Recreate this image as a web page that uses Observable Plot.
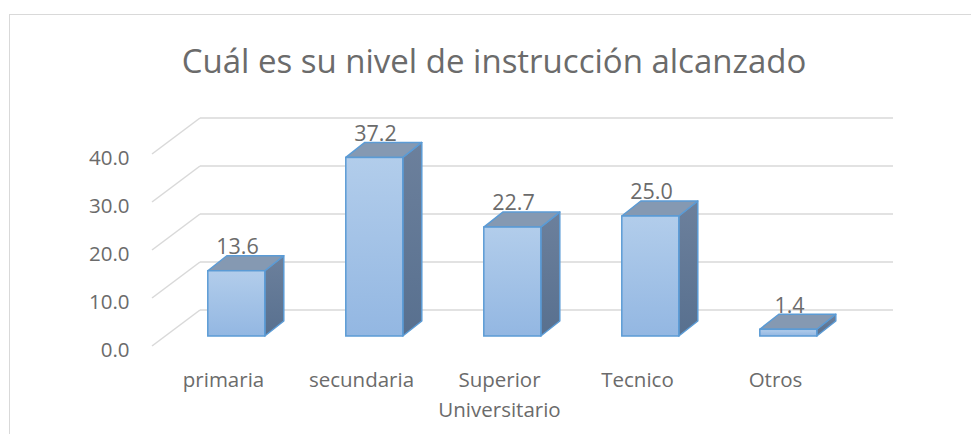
<!DOCTYPE html>
<html><head><meta charset="utf-8">
<script src="https://cdn.jsdelivr.net/npm/d3@7"></script>
<script src="https://cdn.jsdelivr.net/npm/@observablehq/plot@0.6"></script>
<style>
body{margin:0;background:#fff;}
#wrap{position:relative;width:971px;height:434px;overflow:hidden;}
#border{position:absolute;left:9px;top:14px;width:1000px;height:500px;border:1px solid #d9d9d9;}
#chart{position:absolute;left:0;top:0;}
</style></head><body><div id="wrap"><div id="border"></div><div id="chart"></div></div>
<script>
const title = "Cuál es su nivel de instrucción alcanzado";
const categories = ["primaria", "secundaria", "Superior Universitario", "Tecnico", "Otros"];
const values = [13.6, 37.2, 22.7, 25.0, 1.4];
const yTicks = [0, 10, 20, 30, 40];
const data = categories.map((c, i) => ({category: c, value: values[i]}));

// 3D geometry (style constants)
const wallDx = 48, wallDy = -36;
const faceDx = 13.3, faceDy = -10;
const barHalf = 28.5;
const depthDx = 19, depthDy = -15;
const gridColor = "#d9d9d9";
const textColor = "#6b6b6b";
const edge = "#5b9bd5";

function gridRender(index, scales, vals, dims) {
  const {x, y} = scales;
  const [x0, x1] = x.range();
  const g = d3.create("svg:g");
  for (const i of index) {
    const yy = y(yTicks[i]);
    g.append("line").attr("x1", x0).attr("y1", yy).attr("x2", x0 + wallDx).attr("y2", yy + wallDy)
      .attr("stroke", gridColor).attr("stroke-width", 1.5);
    g.append("line").attr("x1", x0 + wallDx).attr("y1", yy + wallDy).attr("x2", x1 + wallDx).attr("y2", yy + wallDy)
      .attr("stroke", gridColor).attr("stroke-width", 1.5);
  }
  return g.node();
}

function barsRender(index, scales, vals, dims) {
  const {x, y} = scales;
  const bw = x.bandwidth();
  const g = d3.create("svg:g");
  const defs = g.append("defs");
  const gf = defs.append("linearGradient").attr("id", "gFront").attr("x1", 0).attr("y1", 0).attr("x2", 0).attr("y2", 1);
  gf.append("stop").attr("offset", "0%").attr("stop-color", "#b2cdeb");
  gf.append("stop").attr("offset", "100%").attr("stop-color", "#93b7e2");
  const gs = defs.append("linearGradient").attr("id", "gSide").attr("x1", 0).attr("y1", 0).attr("x2", 0).attr("y2", 1);
  gs.append("stop").attr("offset", "0%").attr("stop-color", "#6c809c");
  gs.append("stop").attr("offset", "100%").attr("stop-color", "#58708f");
  for (const i of index) {
    const d = data[i];
    const cx = x(d.category) + bw / 2 + faceDx;
    const L = cx - barHalf, R = cx + barHalf;
    const yb = y(0) + faceDy, yt = y(d.value) + faceDy;
    const pts = a => a.map(p => p.join(",")).join(" ");
    g.append("polygon").attr("points", pts([[R, yt], [R + depthDx, yt + depthDy], [R + depthDx, yb + depthDy], [R, yb]]))
      .attr("fill", "url(#gSide)").attr("stroke", edge).attr("stroke-width", 1.5).attr("stroke-linejoin", "round");
    g.append("polygon").attr("points", pts([[L, yt], [R, yt], [R + depthDx, yt + depthDy], [L + depthDx, yt + depthDy]]))
      .attr("fill", "#8599b2").attr("stroke", edge).attr("stroke-width", 1.5).attr("stroke-linejoin", "round");
    g.append("rect").attr("x", L).attr("y", yt).attr("width", R - L).attr("height", yb - yt)
      .attr("fill", "url(#gFront)").attr("stroke", edge).attr("stroke-width", 1.5);
  }
  return g.node();
}

const chart = Plot.plot({
  width: 971,
  height: 434,
  marginLeft: 152,
  marginRight: 126,
  marginTop: 154,
  marginBottom: 88,
  x: {type: "band", domain: categories, padding: 0},
  y: {domain: [0, 40]},
  style: {fontFamily: "'Open Sans', Lato, sans-serif", color: textColor, background: "transparent", overflow: "visible"},
  marks: [
    Plot.ruleY(yTicks, {y: d => d, render: gridRender}),
    Plot.barY(data, {x: "category", y: "value", render: barsRender}),
    Plot.text(data, {x: "category", y: "value", text: d => d.value.toFixed(1), dx: 14, dy: -34, fontSize: 21.5, fill: textColor}),
    Plot.axisY(yTicks, {tickSize: 0, tickPadding: 23, tickFormat: d => d.toFixed(1), fontSize: 20.5, dy: 4, label: null, fill: textColor}),
    Plot.axisX({tickSize: 0, tickPadding: 19, tickFormat: d => d.replace(" ", "\n"), fontSize: 20.5, lineHeight: 1.46, label: null, fill: textColor}),
    Plot.text([title], {frameAnchor: "top", lineAnchor: "middle", text: d => d, dx: -5, dy: -92, fontSize: 33, fill: textColor})
  ]
});
document.getElementById("chart").appendChild(chart);
</script>
</body></html>
